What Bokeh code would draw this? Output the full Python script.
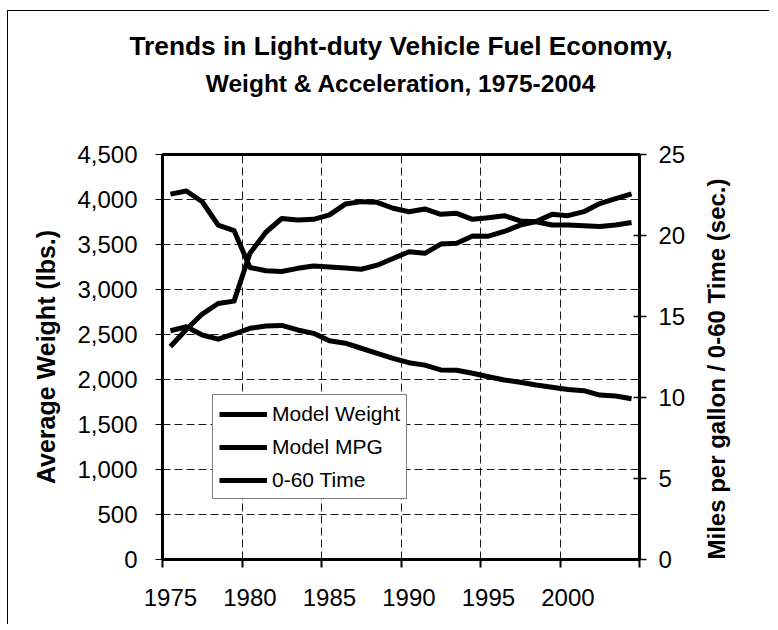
import math
from bokeh.plotting import figure
from bokeh.models import (Range1d, LinearAxis, FixedTicker, NumeralTickFormatter,
                          Legend, LegendItem)
from bokeh.embed import file_html
from bokeh.resources import INLINE

# ---------------- data ----------------
years = list(range(1975, 2005))
model_weight = [4060, 4095, 3975, 3715, 3655, 3245, 3208, 3200, 3235, 3260,
                3250, 3240, 3225, 3270, 3345, 3420, 3402, 3505, 3513, 3595,
                3592, 3645, 3715, 3755, 3835, 3820, 3865, 3955, 4010, 4062]
model_mpg = [13.15, 14.2, 15.15, 15.8, 15.95, 18.9, 20.2, 21.05, 20.95, 21.0,
             21.27, 21.94, 22.09, 22.05, 21.68, 21.47, 21.64, 21.31, 21.37, 21.0,
             21.1, 21.22, 20.9, 20.85, 20.65, 20.65, 20.6, 20.55, 20.65, 20.8]
zero_to_sixty = [14.12, 14.37, 13.86, 13.6, 13.92, 14.27, 14.41, 14.45, 14.17, 13.96,
                 13.5, 13.35, 13.04, 12.73, 12.42, 12.15, 12.0, 11.7, 11.68, 11.5,
                 11.28, 11.08, 10.94, 10.77, 10.63, 10.5, 10.42, 10.15, 10.09, 9.92]
year_labels = [1975, 1980, 1985, 1990, 1995, 2000]
weight_ticks = [0, 500, 1000, 1500, 2000, 2500, 3000, 3500, 4000, 4500]
right_ticks = [0, 5, 10, 15, 20, 25]
series_names = ["Model Weight", "Model MPG", "0-60 Time"]
title_lines = ["Trends in Light-duty Vehicle Fuel Economy,",
               "Weight & Acceleration, 1975-2004"]
left_title = "Average Weight (lbs.)"
right_title = "Miles per gallon  / 0-60 Time (sec.)"

# ---------------- layout ----------------
FONT = "Liberation Sans"
W, H = 762, 614
BL, BT = 154, 143
FW, FH = 477, 405
BR = W - BL - FW
BB = H - BT - FH

x0, x1 = years[0] - 0.5, years[-1] + 0.5
y0, y1 = weight_ticks[0], weight_ticks[-1]

p = figure(width=W, height=H, output_backend="svg", toolbar_location=None,
           x_range=Range1d(x0, x1), y_range=Range1d(y0, y1),
           min_border_left=BL, min_border_right=BR,
           min_border_top=BT, min_border_bottom=BB)
p.extra_y_ranges = {"right": Range1d(right_ticks[0], right_ticks[-1])}
p.background_fill_color = "white"
p.border_fill_color = "white"
p.outline_line_color = "black"
p.outline_line_width = 3
p.styles = {"border-left": "1px solid black", "border-top": "1px solid black",
            "margin-left": "7px", "margin-top": "10px"}

# x axis: labels at category centres, ticks at category boundaries
boundaries = [y - 0.5 for y in year_labels] + [x1]
xa = p.xaxis[0]
xa.ticker = FixedTicker(ticks=year_labels, minor_ticks=boundaries)
xa.axis_line_color = None
xa.major_tick_line_color = None
xa.major_tick_out = 0
xa.major_tick_in = 0
xa.minor_tick_line_color = "black"
xa.minor_tick_line_width = 2
xa.minor_tick_out = 8
xa.minor_tick_in = 0
xa.major_label_standoff = 21
xa.major_label_text_font = FONT
xa.major_label_text_font_size = "24px"
xa.major_label_text_color = "black"

# left axis
ya = p.yaxis[0]
ya.ticker = FixedTicker(ticks=weight_ticks, minor_ticks=[])
ya.formatter = NumeralTickFormatter(format="0,0")
ya.axis_line_color = None
ya.major_tick_line_color = "black"
ya.major_tick_line_width = 1
ya.major_tick_out = 7
ya.major_tick_in = 0
ya.minor_tick_line_color = None
ya.major_label_standoff = 18
ya.major_label_text_font = FONT
ya.major_label_text_font_size = "24px"
ya.major_label_text_color = "black"
ya.axis_label = left_title
ya.axis_label_text_font = FONT
ya.axis_label_text_font_style = "bold"
ya.axis_label_text_font_size = "25px"
ya.axis_label_text_color = "black"
ya.axis_label_standoff = 14

# right axis
ra = LinearAxis(y_range_name="right", ticker=FixedTicker(ticks=right_ticks, minor_ticks=[]))
ra.axis_line_color = None
ra.major_tick_line_color = "black"
ra.major_tick_line_width = 1.5
ra.major_tick_out = 7
ra.major_tick_in = 6
ra.minor_tick_line_color = None
ra.major_label_standoff = 12
ra.major_label_text_font = FONT
ra.major_label_text_font_size = "24px"
ra.major_label_text_color = "black"
ra.axis_label = right_title
ra.axis_label_orientation = math.pi / 2
ra.axis_label_align = "start"
ra.axis_label_text_font = FONT
ra.axis_label_text_font_style = "bold"
ra.axis_label_text_font_size = "24px"
ra.axis_label_text_color = "black"
ra.axis_label_standoff = 28
p.add_layout(ra, "right")

# title: two centred lines, carried by tick-less axes above the frame
# (the first one added sits nearest the frame)
for line, size, standoff in zip(reversed(title_lines), ["24.5px", "26.3px"], [58, 6]):
    ta = LinearAxis(ticker=FixedTicker(ticks=[], minor_ticks=[]))
    ta.axis_line_color = None
    ta.major_tick_line_color = None
    ta.minor_tick_line_color = None
    ta.major_tick_out = 0
    ta.major_tick_in = 0
    ta.minor_tick_out = 0
    ta.minor_tick_in = 0
    ta.major_label_standoff = 0
    ta.major_label_text_font_size = "0px"
    ta.axis_label = line
    ta.axis_label_standoff = standoff
    ta.axis_label_text_font = FONT
    ta.axis_label_text_font_style = "bold"
    ta.axis_label_text_font_size = size
    ta.axis_label_text_color = "black"
    p.add_layout(ta, "above")

# grids
p.ygrid.ticker = FixedTicker(ticks=weight_ticks[1:-1])
p.xgrid.ticker = FixedTicker(ticks=boundaries[1:-1])
for g in (p.xgrid[0], p.ygrid[0]):
    g.grid_line_color = "#1a1a1a"
    g.grid_line_width = 1
    g.grid_line_dash = "8 4"

# series
r1 = p.line(years, model_weight, line_width=5, color="black", line_join="round")
r2 = p.line(years, model_mpg, y_range_name="right", line_width=5, color="black", line_join="round")
r3 = p.line(years, zero_to_sixty, y_range_name="right", line_width=5, color="black", line_join="round")

legend = Legend(items=[LegendItem(label=series_names[0], renderers=[r1]),
                       LegendItem(label=series_names[1], renderers=[r2]),
                       LegendItem(label=series_names[2], renderers=[r3])],
                location=(50, 60), orientation="vertical",
                label_text_font=FONT, label_text_font_size="21px", label_text_color="black",
                glyph_width=48, glyph_height=20, label_standoff=5, label_height=25,
                padding=6, spacing=8, margin=0,
                border_line_color="black", border_line_width=1,
                background_fill_color="white", background_fill_alpha=1)
p.add_layout(legend)

open("out.html", "w").write(file_html(p, INLINE))
